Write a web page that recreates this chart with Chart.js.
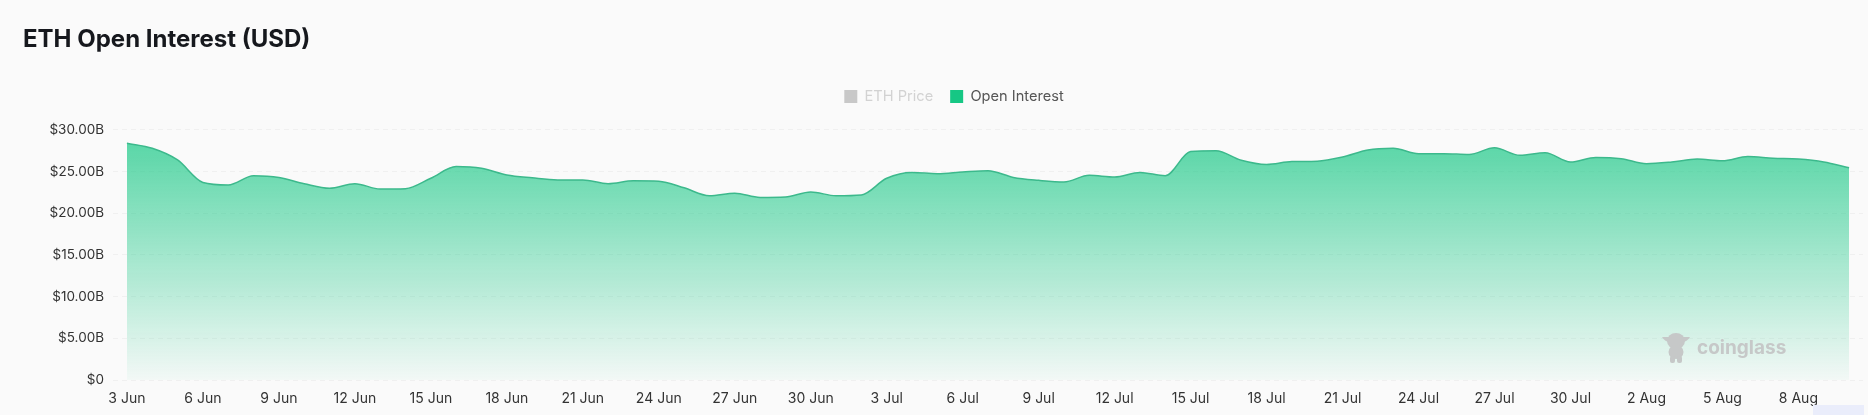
<!DOCTYPE html>
<html>
<head>
<meta charset="utf-8">
<title>ETH Open Interest (USD)</title>
<script src="https://cdn.jsdelivr.net/npm/chart.js@4/dist/chart.umd.min.js"></script>
<style>
html,body{margin:0;padding:0;background:#fafafa;overflow:hidden;}
#wrap{position:relative;width:1868px;height:415px;}
#mark{position:absolute;left:1662px;top:331px;display:flex;align-items:center;color:#c6c8c8;font:700 19px "Inter",sans-serif;}
#mark svg{margin-right:6px;}
#corner{position:absolute;left:1813px;top:405px;width:51px;height:10px;background:#eaedfb;}
</style>
</head>
<body>
<div id="wrap">
<canvas id="c" width="1868" height="415"></canvas>
<div id="mark">
<svg width="29" height="33" viewBox="0 0 29 33"><g fill="#c6c8c8"><ellipse cx="14" cy="10" rx="9" ry="8"/><path d="M0 6 L8 6 L8 11 Q3 11 0 6 Z M28 6 L20 6 L20 11 Q25 11 28 6 Z"/><ellipse cx="14" cy="21" rx="7.5" ry="7"/><rect x="8" y="25" width="5" height="7" rx="2"/><rect x="15" y="25" width="5" height="7" rx="2"/></g></svg>
<span>coinglass</span>
</div>
<div id="corner"></div>
</div>
<script>
// daily open interest in $B, 3 Jun to 10 Aug
var days=["3 Jun","4 Jun","5 Jun","6 Jun","7 Jun","8 Jun","9 Jun","10 Jun","11 Jun","12 Jun","13 Jun","14 Jun","15 Jun","16 Jun","17 Jun","18 Jun","19 Jun","20 Jun","21 Jun","22 Jun","23 Jun","24 Jun","25 Jun","26 Jun","27 Jun","28 Jun","29 Jun","30 Jun","1 Jul","2 Jul","3 Jul","4 Jul","5 Jul","6 Jul","7 Jul","8 Jul","9 Jul","10 Jul","11 Jul","12 Jul","13 Jul","14 Jul","15 Jul","16 Jul","17 Jul","18 Jul","19 Jul","20 Jul","21 Jul","22 Jul","23 Jul","24 Jul","25 Jul","26 Jul","27 Jul","28 Jul","29 Jul","30 Jul","31 Jul","1 Aug","2 Aug","3 Aug","4 Aug","5 Aug","6 Aug","7 Aug","8 Aug","9 Aug","10 Aug"];
var openInterest=[28.4,27.8,26.4,23.7,23.4,24.5,24.3,23.55,23.0,23.55,22.9,22.95,24.2,25.6,25.4,24.6,24.25,24.0,24.0,23.55,23.9,23.85,23.05,22.1,22.4,21.9,21.95,22.55,22.1,22.2,24.2,24.9,24.75,24.95,25.1,24.3,23.95,23.75,24.55,24.35,24.9,24.5,27.4,27.5,26.35,25.85,26.2,26.25,26.75,27.6,27.8,27.15,27.15,27.05,27.85,26.95,27.25,26.15,26.7,26.55,25.95,26.15,26.5,26.3,26.8,26.6,26.5,26.15,25.45];
var ethPrice=[];
var yTicks=[0,5,10,15,20,25,30];
var xTicks=[0,3,6,9,12,15,18,21,24,27,30,33,36,39,42,45,48,51,54,57,60,63,66];

var points=[];
for(var i=0;i<openInterest.length;i++){
  points.push({x:i,y:openInterest[i]});
}

function areaFill(ctx){
  var chart=ctx.chart;
  if(!chart.chartArea) return "rgba(22,199,132,.7)";
  var y=chart.scales.y;
  var g=chart.ctx.createLinearGradient(0,y.getPixelForValue(28.4),0,y.getPixelForValue(0));
  g.addColorStop(0,"rgba(22,199,132,.7)");
  g.addColorStop(1,"rgba(22,199,132,.03)");
  return g;
}

// legend sits right of centre and closer to the title in the original
var shiftLegend={
  id:"shiftLegend",
  afterLayout:function(chart){
    chart.legend.left+=11;
    chart.legend.right+=11;
    chart.legend.top-=16.1;
    chart.legend.bottom-=16.1;
  }
};

var font="Inter";
new Chart(document.getElementById("c").getContext("2d"),{
  type:"line",
  plugins:[shiftLegend],
  data:{datasets:[
    {label:"ETH Price",data:ethPrice,borderColor:"#c8c8c8",backgroundColor:"#c8c8c8",hidden:true},
    {label:"Open Interest",data:points,borderColor:"#3cb98c",borderWidth:1.5,pointRadius:0,fill:"origin",cubicInterpolationMode:"monotone",backgroundColor:areaFill}
  ]},
  options:{
    responsive:false,
    animation:false,
    layout:{padding:{left:23,right:5,top:0,bottom:0}},
    plugins:{
      title:{display:true,text:"ETH Open Interest (USD)",align:"start",color:"#16181d",font:{family:font,size:24,weight:"700"},padding:{top:25,bottom:34.5}},
      legend:{
        display:true,
        onClick:null,
        labels:{
          boxWidth:13,boxHeight:13,padding:17,
          font:{family:font,size:14.6},
          generateLabels:function(chart){
            return [
              {text:"ETH Price",fillStyle:"#c8c8c8",strokeStyle:"#c8c8c8",lineWidth:0,fontColor:"#d2d2d2",hidden:false,datasetIndex:0},
              {text:"Open Interest",fillStyle:"#16c784",strokeStyle:"#16c784",lineWidth:0,fontColor:"#555555",hidden:false,datasetIndex:1}
            ];
          }
        }
      },
      tooltip:{enabled:false}
    },
    scales:{
      x:{
        type:"linear",
        min:-0.55,
        max:68.55,
        grid:{display:false},
        border:{display:false},
        afterBuildTicks:function(s){
          s.ticks=xTicks.map(function(v){return {value:v};});
        },
        afterFit:function(s){s.height=35;},
        ticks:{
          autoSkip:false,maxRotation:0,padding:2,color:"#333333",
          font:{family:font,size:14},
          callback:function(v){return days[v];}
        }
      },
      y:{
        min:0,
        max:30,
        grid:{color:"#f0f0f0",drawTicks:false,lineWidth:1},
        border:{display:false,dash:[5,4]},
        afterBuildTicks:function(s){
          s.ticks=yTicks.map(function(v){return {value:v};});
        },
        afterFit:function(s){s.width=90;},
        ticks:{
          padding:9,color:"#333333",
          font:{family:font,size:13.5},
          callback:function(v){return v==0?"$0":"$"+v.toFixed(2)+"B";}
        }
      }
    }
  }
});
</script>
</body>
</html>
